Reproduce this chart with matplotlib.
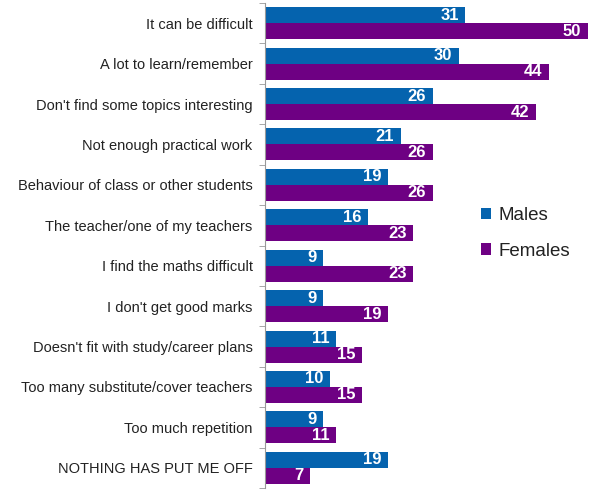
import numpy as np
import matplotlib.pyplot as plt

plt.rcParams['font.family'] = ['Liberation Sans', 'DejaVu Sans']

categories = ['It can be difficult', 'A lot to learn/remember',
              "Don't find some topics interesting", 'Not enough practical work',
              'Behaviour of class or other students', 'The teacher/one of my teachers',
              'I find the maths difficult', "I don't get good marks",
              "Doesn't fit with study/career plans", 'Too many substitute/cover teachers',
              'Too much repetition', 'NOTHING HAS PUT ME OFF']
males = [31, 30, 26, 21, 19, 16, 9, 9, 11, 10, 9, 19]
females = [50, 44, 42, 26, 26, 23, 23, 19, 15, 15, 11, 7]

blue = '#0563ae'
purple = '#6e0083'

fig = plt.figure(figsize=(5.9, 4.97), dpi=100)
ax = fig.add_axes([265 / 590, 9 / 497, 324 / 590, 485 / 497])

y = np.arange(len(categories))
h = 0.395
bm = ax.barh(y - h / 2, males, height=h, color=blue, label='Males')
bf = ax.barh(y + h / 2, females, height=h, color=purple, label='Females')

for bars in (bm, bf):
    for b in bars:
        w = b.get_width()
        ax.text(w - 1.0, b.get_y() + b.get_height() / 2, str(int(w)),
                ha='right', va='center', color='white', fontsize=12, fontweight='bold')

ax.set_xlim(0, 50.2)
ax.set_ylim(len(categories) - 0.5, -0.5)
ax.set_yticks(y)
ax.set_yticklabels(categories, fontsize=10.5, color='#222222')
ax.tick_params(axis='y', length=0, pad=9)
ax.set_yticks(np.arange(len(categories) + 1) - 0.5, minor=True)
ax.tick_params(axis='y', which='minor', length=4, color='#999999')
ax.set_xticks([])
for s in ['top', 'right', 'bottom']:
    ax.spines[s].set_visible(False)
ax.spines['left'].set_color('#999999')

ax.legend(loc='center left', bbox_to_anchor=(0.615, 0.525), frameon=False,
          fontsize=13.5, handlelength=0.55, handleheight=0.55, handletextpad=0.35,
          labelspacing=1.0, labelcolor='#222222')

fig.savefig('out.png', dpi=100)
